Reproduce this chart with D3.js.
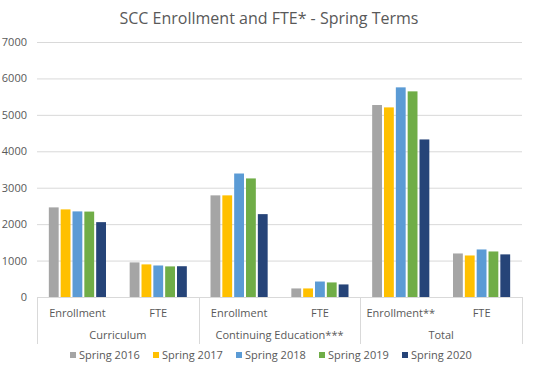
<!DOCTYPE html>
<html>
<head>
<meta charset="utf-8">
<script src="https://cdn.jsdelivr.net/npm/d3@7"></script>
<style>
    body { margin: 0; background: #fff; }
    text { font-family: "Open Sans", "Liberation Sans", sans-serif; fill: #595959; }
</style>
</head>
<body>
<div id="chart"></div>
<script>
// Chart data
const categories = ["Enrollment", "FTE", "Enrollment", "FTE", "Enrollment**", "FTE"];
const groups = ["Curriculum", "Continuing Education***", "Total"];
const seriesNames = ["Spring 2016", "Spring 2017", "Spring 2018", "Spring 2019", "Spring 2020"];
const spring2016 = [2460, 950, 2790, 235, 5270, 1195];
const spring2017 = [2405, 895, 2790, 235, 5205, 1140];
const spring2018 = [2350, 865, 3390, 425, 5755, 1305];
const spring2019 = [2345, 840, 3255, 400, 5645, 1250];
const spring2020 = [2055, 845, 2275, 345, 4325, 1170];
const yTicks = [0, 1000, 2000, 3000, 4000, 5000, 6000, 7000];
const colors = ["#A5A5A5", "#FFC000", "#5B9BD5", "#70AD47", "#264478"];

const series = [spring2016, spring2017, spring2018, spring2019, spring2020];

const width = 535, height = 373;
const margin = { left: 37, right: 13, top: 42, bottom: 76 };

const svg = d3.select("#chart").append("svg")
    .attr("width", width)
    .attr("height", height);

// Title
svg.append("text")
    .attr("x", 269)
    .attr("y", 24)
    .attr("text-anchor", "middle")
    .style("font-size", "16px")
    .text("SCC Enrollment and FTE* - Spring Terms");

const x0 = d3.scaleBand()
    .domain(d3.range(categories.length))
    .range([margin.left, width - margin.right]);

const x1 = d3.scaleBand()
    .domain(d3.range(series.length))
    .range([0, x0.bandwidth()])
    .paddingInner(0.17)
    .paddingOuter(1.0);

const y = d3.scaleLinear()
    .domain([0, 7000])
    .range([height - margin.bottom, margin.top]);

// Gridlines
svg.append("g")
    .selectAll("line")
    .data(yTicks.slice(1))
    .join("line")
    .attr("x1", margin.left)
    .attr("x2", width - margin.right)
    .attr("y1", d => y(d) + 0.5)
    .attr("y2", d => y(d) + 0.5)
    .attr("stroke", "#d9d9d9");

// Y axis labels
svg.append("g")
    .selectAll("text")
    .data(yTicks)
    .join("text")
    .attr("x", 27)
    .attr("y", d => y(d) + 4)
    .attr("text-anchor", "end")
    .style("font-size", "11px")
    .text(d => d);

// Bars
svg.append("g")
    .selectAll("g")
    .data(series)
    .join("g")
    .attr("fill", (d, i) => colors[i])
    .each(function (vals, si) {
        d3.select(this).selectAll("rect")
            .data(vals)
            .join("rect")
            .attr("x", (d, ci) => x0(ci) + x1(si))
            .attr("y", d => y(d))
            .attr("width", x1.bandwidth())
            .attr("height", d => y(0) - y(d));
    });

// X axis line
const y0 = y(0);
svg.append("line")
    .attr("x1", margin.left)
    .attr("x2", width - margin.right)
    .attr("y1", y0 + 0.5)
    .attr("y2", y0 + 0.5)
    .attr("stroke", "#d9d9d9");

// Group separators
const sepX = [0, 2, 4, 6].map(i => i < 6 ? x0(i) : width - margin.right);
svg.append("g")
    .selectAll("line")
    .data(sepX)
    .join("line")
    .attr("x1", d => Math.round(d) + 0.5)
    .attr("x2", d => Math.round(d) + 0.5)
    .attr("y1", y0)
    .attr("y2", y0 + 47)
    .attr("stroke", "#d9d9d9");

// Category labels
svg.append("g")
    .selectAll("text")
    .data(categories)
    .join("text")
    .attr("x", (d, i) => x0(i) + x0.bandwidth() / 2)
    .attr("y", y0 + 20)
    .attr("text-anchor", "middle")
    .style("font-size", "11px")
    .text(d => d);

// Group labels
svg.append("g")
    .selectAll("text")
    .data(groups)
    .join("text")
    .attr("x", (d, i) => x0(i * 2) + x0.bandwidth())
    .attr("y", y0 + 42)
    .attr("text-anchor", "middle")
    .style("font-size", "11px")
    .text(d => d);

// Legend
const legendX = [70, 153, 236, 319, 402];
const legend = svg.append("g")
    .selectAll("g")
    .data(seriesNames)
    .join("g")
    .attr("transform", (d, i) => `translate(${legendX[i]}, 359)`);

legend.append("rect")
    .attr("x", 0)
    .attr("y", -7)
    .attr("width", 6)
    .attr("height", 6)
    .attr("fill", (d, i) => colors[i]);

legend.append("text")
    .attr("x", 9)
    .attr("y", 0)
    .style("font-size", "11px")
    .text(d => d);
</script>
</body>
</html>
